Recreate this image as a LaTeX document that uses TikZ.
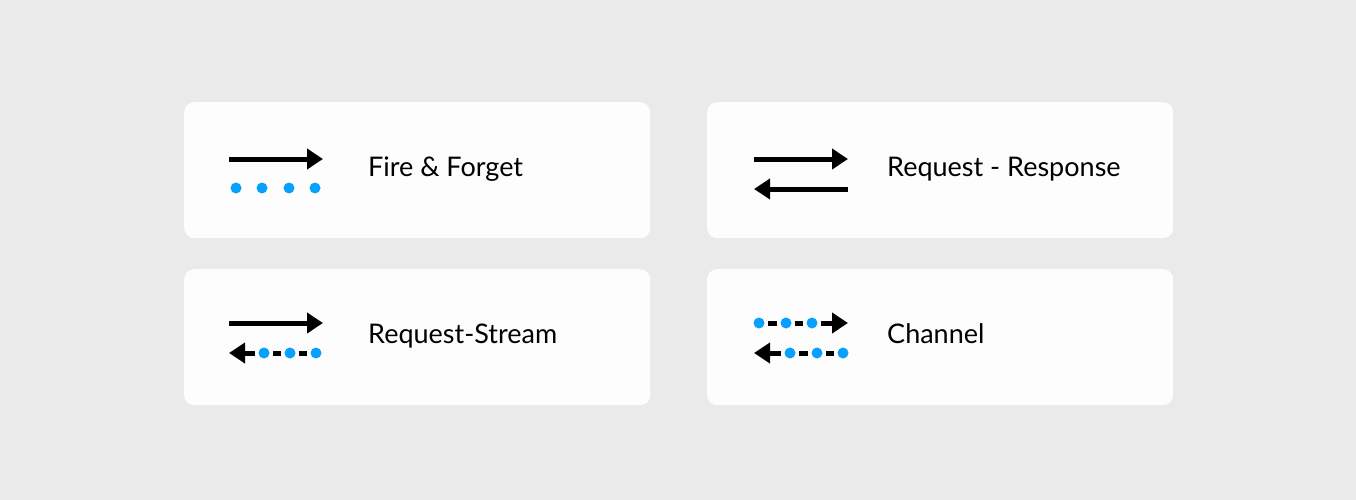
\documentclass[tikz,border=0pt]{standalone}
\usepackage{fontspec}
\setmainfont{Lato}
\usetikzlibrary{arrows.meta}
\definecolor{pagegray}{RGB}{234,234,234}
\definecolor{cardwhite}{RGB}{253,253,253}
\definecolor{dotblue}{RGB}{8,160,255}

\begin{document}
\begin{tikzpicture}[x=1pt,y=-1pt,
    card/.style={fill=cardwhite,rounded corners=10pt,anchor=north west,
      minimum width=466pt,minimum height=136pt,inner sep=0pt},
    msgline/.style={line width=5pt,-{Triangle[length=16pt,width=20pt]}},
    dashbit/.style={line width=5pt,shorten <=3.5pt,shorten >=3.5pt},
    dotmark/.style={circle,fill=dotblue,inner sep=0pt,minimum size=11pt},
    kindtext/.style={anchor=base west,inner sep=0pt,
      font=\fontsize{27}{31}\selectfont}]
    % background
    \fill[pagegray] (0,0) rectangle (1356,500);
    \useasboundingbox (0,0) rectangle (1356,500);

    % cards
    \node[card] (ffCard) at (184,102) {};
    \node[card] (rrCard) at (707,102) {};
    \node[card] (rsCard) at (184,269) {};
    \node[card] (chCard) at (707,269) {};

    % Fire & Forget
    \coordinate (ffStart) at (229,159);
    \coordinate (ffTip) at (323,159);
    \draw[msgline] (ffStart) -- (ffTip);
    \foreach \x [count=\i] in {236,262,289,315}
        \node[dotmark] (ffDot\i) at (\x,188) {};
    \node[kindtext] (ffText) at (368,176) {Fire \& Forget};

    % Request - Response
    \coordinate (rrStart) at (754,159);
    \coordinate (rrTip) at (848,159);
    \coordinate (rrBack) at (848,189);
    \coordinate (rrBackTip) at (754,189);
    \draw[msgline] (rrStart) -- (rrTip);
    \draw[msgline] (rrBack) -- (rrBackTip);
    \node[kindtext] (rrText) at (887,176) {Request - Response};

    % Request-Stream
    \coordinate (rsStart) at (229,323);
    \coordinate (rsTip) at (323,323);
    \coordinate (rsBackTip) at (229,353);
    \draw[msgline] (rsStart) -- (rsTip);
    \foreach \x [count=\i] in {264,290,316}
        \node[dotmark] (rsDot\i) at (\x,353) {};
    \draw[msgline,shorten <=3pt] (rsDot1) -- (rsBackTip);
    \draw[dashbit] (rsDot1) -- (rsDot2);
    \draw[dashbit] (rsDot2) -- (rsDot3);
    \node[kindtext] (rsText) at (368,343) {Request-Stream};

    % Channel
    \coordinate (chTip) at (848,323);
    \coordinate (chBackTip) at (754,353);
    \foreach \x [count=\i] in {759,786,812}
        \node[dotmark] (chDot\i) at (\x,323) {};
    \foreach \x [count=\i from 4] in {790,817,843}
        \node[dotmark] (chDot\i) at (\x,353) {};
    \draw[msgline,shorten <=3pt] (chDot3) -- (chTip);
    \draw[dashbit] (chDot1) -- (chDot2);
    \draw[dashbit] (chDot2) -- (chDot3);
    \draw[msgline,shorten <=3pt] (chDot4) -- (chBackTip);
    \draw[dashbit] (chDot4) -- (chDot5);
    \draw[dashbit] (chDot5) -- (chDot6);
    \node[kindtext] (chText) at (887,343) {Channel};
\end{tikzpicture}
\end{document}
